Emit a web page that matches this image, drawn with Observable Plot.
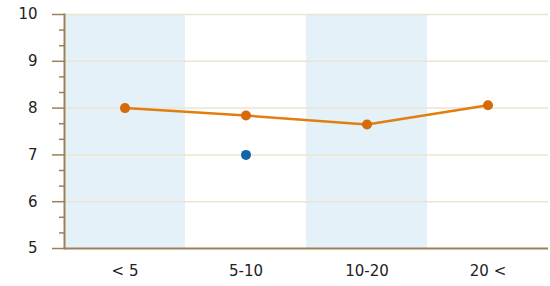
<!DOCTYPE html>
<html><head><meta charset="utf-8">
<script src="https://cdn.jsdelivr.net/npm/d3@7"></script>
<script src="https://cdn.jsdelivr.net/npm/@observablehq/plot@0.6"></script>
<style>body{margin:0;background:#fff}</style>
</head><body><div id="chart"></div>
<script>
const categories = ["< 5", "5-10", "10-20", "20 <"];
const seriesOrange = [8.0, 7.84, 7.65, 8.06];
const seriesBlue = [{cat: "5-10", value: 7.0}];
const shadedCats = ["< 5", "10-20"];
const yTicks = [5, 6, 7, 8, 9, 10];
const yMinor = [5.333, 5.667, 6.333, 6.667, 7.333, 7.667, 8.333, 8.667, 9.333, 9.667];

const orange = categories.map((c, i) => ({cat: c, value: seriesOrange[i]}));
const axisColor = "#9c8158";

const chart = Plot.plot({
  width: 550, height: 286,
  marginLeft: 64, marginRight: 2, marginTop: 14, marginBottom: 38,
  style: {fontFamily: "DejaVu Sans, sans-serif", fontSize: "15px", color: "#222", background: "#fff"},
  x: {domain: categories, padding: 0, label: null},
  y: {domain: [5, 10], label: null},
  marks: [
    Plot.barY(shadedCats, {x: d => d, y1: 5, y2: 10, fill: "#e4f1f8"}),
    Plot.ruleY(yTicks.slice(1), {stroke: "#ece3d2", strokeWidth: 1.5}),
    Plot.axisY({ticks: yMinor, tickSize: 5, stroke: axisColor, strokeWidth: 1.5, text: null}),
    Plot.axisY({ticks: yTicks, tickSize: 12, tickPadding: 15, stroke: axisColor, strokeWidth: 1.5, tickFormat: d => d, fill: "#222", fontSize: 15}),
    Plot.axisX({tickSize: 0, tickPadding: 17, fill: "#222", fontSize: 15}),
    Plot.frame({anchor: "left", stroke: axisColor, strokeWidth: 2}),
    Plot.ruleY([5], {stroke: axisColor, strokeWidth: 2}),
    Plot.lineY(orange, {x: "cat", y: "value", stroke: "#e07e10", strokeWidth: 2.5}),
    Plot.dot(orange, {x: "cat", y: "value", r: 5, fill: "#d46a08"}),
    Plot.dot(seriesBlue, {x: "cat", y: "value", r: 5, fill: "#1266a8"})
  ]
});
document.getElementById("chart").append(chart);
</script>
</body></html>
